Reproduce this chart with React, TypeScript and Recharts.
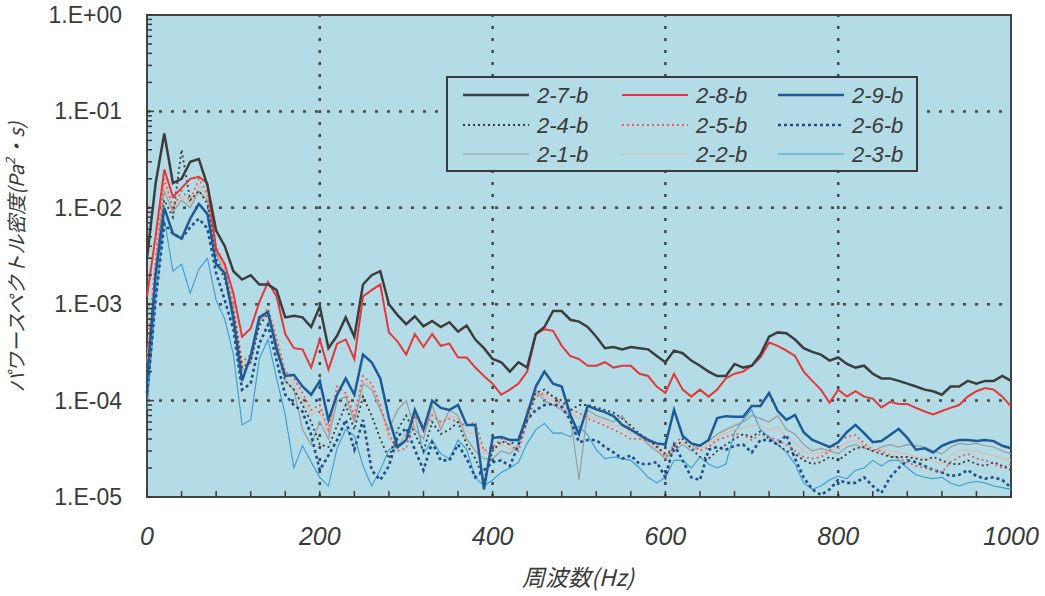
import { LineChart, Line, XAxis, YAxis, CartesianGrid, ReferenceLine, ReferenceArea } from 'recharts';

// frequency (Hz)
const freqs = [
  0, 10, 20, 30, 40, 50, 60, 70, 80, 90,
  100, 110, 120, 130, 140, 150, 160, 170, 180, 190,
  200, 210, 220, 230, 240, 250, 260, 270, 280, 290,
  300, 310, 320, 330, 340, 350, 360, 370, 380, 390,
  400, 410, 420, 430, 440, 450, 460, 470, 480, 490,
  500, 510, 520, 530, 540, 550, 560, 570, 580, 590,
  600, 610, 620, 630, 640, 650, 660, 670, 680, 690,
  700, 710, 720, 730, 740, 750, 760, 770, 780, 790,
  800, 810, 820, 830, 840, 850, 860, 870, 880, 890,
  900, 910, 920, 930, 940, 950, 960, 970, 980, 990, 1000,
];

// power spectral density (Pa^2·s)
const s27 = [
  3.0e-3, 1.8e-2, 5.9e-2, 1.8e-2, 2.0e-2, 3.0e-2, 3.2e-2, 1.7e-2, 5.8e-3, 4.0e-3,
  2.2e-3, 1.8e-3, 2.0e-3, 1.6e-3, 1.6e-3, 1.4e-3, 7.3e-4, 7.6e-4, 7.3e-4, 5.8e-4,
  9.5e-4, 3.5e-4, 4.7e-4, 7.3e-4, 4.6e-4, 1.6e-3, 2.0e-3, 2.2e-3, 1.0e-3, 7.7e-4,
  6.2e-4, 7.5e-4, 5.9e-4, 6.7e-4, 5.8e-4, 6.5e-4, 5.2e-4, 6.0e-4, 4.3e-4, 3.5e-4,
  2.7e-4, 2.5e-4, 2.0e-4, 2.5e-4, 2.2e-4, 4.9e-4, 5.8e-4, 8.5e-4, 8.5e-4, 6.9e-4,
  6.6e-4, 5.8e-4, 4.6e-4, 3.5e-4, 3.6e-4, 3.4e-4, 3.6e-4, 3.5e-4, 3.4e-4, 2.9e-4,
  2.5e-4, 3.3e-4, 3.1e-4, 2.6e-4, 2.3e-4, 2.0e-4, 1.8e-4, 1.8e-4, 2.4e-4, 2.2e-4,
  2.3e-4, 3.0e-4, 4.6e-4, 5.1e-4, 5.0e-4, 4.3e-4, 3.5e-4, 3.2e-4, 3.0e-4, 2.6e-4,
  2.8e-4, 2.4e-4, 2.2e-4, 2.3e-4, 1.9e-4, 1.7e-4, 1.7e-4, 1.6e-4, 1.5e-4, 1.4e-4,
  1.3e-4, 1.25e-4, 1.15e-4, 1.4e-4, 1.4e-4, 1.6e-4, 1.5e-4, 1.6e-4, 1.6e-4, 1.8e-4, 1.6e-4,
];
const s28 = [
  1.2e-3, 5.1e-3, 2.5e-2, 1.3e-2, 1.6e-2, 2.0e-2, 2.1e-2, 1.8e-2, 3.7e-3, 2.6e-3,
  1.3e-3, 4.6e-4, 5.6e-4, 1.05e-3, 1.7e-3, 1.2e-3, 4.9e-4, 3.5e-4, 3.4e-4, 2.2e-4,
  4.3e-4, 2.1e-4, 3.9e-4, 4.3e-4, 2.7e-4, 1.2e-3, 1.4e-3, 1.6e-3, 5.1e-4, 4.1e-4,
  3.0e-4, 4.9e-4, 3.6e-4, 4.9e-4, 3.7e-4, 3.9e-4, 2.8e-4, 2.8e-4, 2.2e-4, 1.8e-4,
  1.5e-4, 1.15e-4, 1.3e-4, 1.5e-4, 2.0e-4, 4.9e-4, 5.5e-4, 5.3e-4, 3.7e-4, 2.9e-4,
  2.7e-4, 2.3e-4, 2.3e-4, 2.5e-4, 2.2e-4, 2.3e-4, 2.3e-4, 1.9e-4, 1.8e-4, 1.4e-4,
  1.2e-4, 1.9e-4, 1.3e-4, 1.1e-4, 1.3e-4, 1.1e-4, 1.3e-4, 1.7e-4, 1.9e-4, 2.0e-4,
  2.3e-4, 2.8e-4, 4.0e-4, 3.7e-4, 3.3e-4, 2.9e-4, 2.0e-4, 1.6e-4, 1.3e-4, 9.5e-5,
  1.3e-4, 1.1e-4, 1.25e-4, 1.1e-4, 1.05e-4, 8.5e-5, 9.7e-5, 9.2e-5, 9.2e-5, 8.4e-5,
  7.7e-5, 7.2e-5, 7.8e-5, 8.4e-5, 9.0e-5, 1.1e-4, 1.25e-4, 1.35e-4, 1.3e-4, 1.1e-4, 8.7e-5,
];
const s29 = [
  1.5e-4, 2.0e-3, 1.0e-2, 5.4e-3, 4.8e-3, 7.7e-3, 1.1e-2, 8.6e-3, 2.6e-3, 2.1e-3,
  7.0e-4, 1.6e-4, 2.9e-4, 7.3e-4, 8.3e-4, 3.4e-4, 1.8e-4, 1.85e-4, 1.4e-4, 1.15e-4,
  1.6e-4, 6.3e-5, 1.15e-4, 1.7e-4, 1.15e-4, 3.0e-4, 2.5e-4, 1.7e-4, 6.6e-5, 3.3e-5,
  3.9e-5, 8.0e-5, 5.0e-5, 1.0e-4, 8.4e-5, 8.0e-5, 9.0e-5, 5.6e-5, 5.6e-5, 1.2e-5,
  4.1e-5, 4.2e-5, 3.9e-5, 3.9e-5, 7.1e-5, 1.4e-4, 2.0e-4, 1.5e-4, 1.4e-4, 7.1e-5,
  4.5e-5, 8.8e-5, 8.1e-5, 7.6e-5, 6.9e-5, 5.6e-5, 5.0e-5, 4.4e-5, 3.9e-5, 3.6e-5,
  3.5e-5, 8.0e-5, 4.3e-5, 3.6e-5, 3.4e-5, 3.9e-5, 6.6e-5, 6.9e-5, 6.8e-5, 6.8e-5,
  8.8e-5, 8.8e-5, 1.2e-4, 7.8e-5, 6.3e-5, 7.1e-5, 4.7e-5, 3.9e-5, 3.6e-5, 3.3e-5,
  3.7e-5, 4.7e-5, 5.6e-5, 4.6e-5, 3.7e-5, 3.8e-5, 4.4e-5, 5.1e-5, 4.1e-5, 3.1e-5,
  3.2e-5, 2.9e-5, 3.4e-5, 3.7e-5, 3.9e-5, 3.9e-5, 3.8e-5, 3.9e-5, 3.8e-5, 3.4e-5, 3.2e-5,
];
const s24 = [
  2.0e-4, 2.0e-3, 1.2e-2, 8.0e-3, 4.0e-2, 1.2e-2, 1.5e-2, 1.1e-2, 3.0e-3, 1.8e-3,
  8.0e-4, 2.2e-4, 2.5e-4, 6.0e-4, 8.0e-4, 3.5e-4, 1.6e-4, 1.3e-4, 9.0e-5, 6.0e-5,
  3.5e-5, 3.3e-5, 5.5e-5, 9.0e-5, 5.0e-5, 1.1e-4, 7.0e-5, 4.0e-5, 2.5e-5, 5.0e-5,
  7.0e-5, 4.5e-5, 3.0e-5, 6.0e-5, 4.5e-5, 5.0e-5, 6.0e-5, 3.5e-5, 2.5e-5, 1.5e-5,
  3.0e-5, 3.8e-5, 3.5e-5, 4.0e-5, 7.0e-5, 1.2e-4, 1.3e-4, 1.1e-4, 1.0e-4, 8.0e-5,
  9.0e-5, 9.0e-5, 8.5e-5, 8.0e-5, 7.5e-5, 6.5e-5, 5.5e-5, 4.5e-5, 4.0e-5, 3.3e-5,
  2.8e-5, 3.0e-5, 4.0e-5, 3.2e-5, 2.6e-5, 2.5e-5, 3.0e-5, 3.5e-5, 4.0e-5, 4.5e-5,
  4.2e-5, 4.8e-5, 4.0e-5, 3.5e-5, 3.0e-5, 2.8e-5, 2.4e-5, 2.2e-5, 2.3e-5, 2.6e-5,
  2.4e-5, 2.8e-5, 3.2e-5, 3.3e-5, 3.0e-5, 2.8e-5, 2.6e-5, 2.6e-5, 2.6e-5, 2.5e-5,
  2.4e-5, 2.6e-5, 2.4e-5, 2.2e-5, 2.2e-5, 2.4e-5, 2.2e-5, 2.1e-5, 2.3e-5, 2.1e-5, 1.9e-5,
];
const s25 = [
  3.0e-4, 3.0e-3, 2.0e-2, 1.0e-2, 1.5e-2, 1.2e-2, 2.0e-2, 1.4e-2, 4.0e-3, 2.5e-3,
  1.0e-3, 2.5e-4, 3.0e-4, 7.0e-4, 9.0e-4, 4.5e-4, 2.0e-4, 1.7e-4, 1.2e-4, 8.0e-5,
  9.0e-5, 5.0e-5, 1.4e-4, 1.2e-4, 7.0e-5, 1.8e-4, 1.5e-4, 9.0e-5, 4.5e-5, 3.0e-5,
  3.2e-5, 7.0e-5, 5.0e-5, 7.0e-5, 6.0e-5, 6.5e-5, 6.0e-5, 5.5e-5, 6.0e-5, 3.0e-5,
  3.3e-5, 4.0e-5, 3.5e-5, 3.0e-5, 6.0e-5, 1.1e-4, 1.2e-4, 1.1e-4, 9.0e-5, 8.0e-5,
  7.5e-5, 6.5e-5, 6.0e-5, 5.5e-5, 5.0e-5, 4.5e-5, 4.0e-5, 4.0e-5, 3.8e-5, 3.5e-5,
  2.6e-5, 3.5e-5, 4.3e-5, 3.6e-5, 3.0e-5, 3.3e-5, 3.9e-5, 4.2e-5, 4.5e-5, 4.4e-5,
  3.9e-5, 4.5e-5, 4.2e-5, 3.9e-5, 3.5e-5, 3.0e-5, 2.6e-5, 2.5e-5, 2.6e-5, 3.0e-5,
  3.8e-5, 4.2e-5, 4.4e-5, 3.6e-5, 3.1e-5, 3.0e-5, 2.7e-5, 2.5e-5, 2.3e-5, 2.1e-5,
  2.0e-5, 1.9e-5, 1.8e-5, 2.3e-5, 2.6e-5, 2.8e-5, 2.5e-5, 2.4e-5, 2.2e-5, 2.0e-5, 2.2e-5,
];
const s26 = [
  1.2e-4, 1.1e-3, 6.8e-3, 5.4e-3, 4.8e-3, 6.3e-3, 7.7e-3, 6.1e-3, 2.1e-3, 1.1e-3,
  5.5e-4, 1.3e-4, 1.5e-4, 3.9e-4, 6.1e-4, 2.6e-4, 1.15e-4, 9.0e-5, 7.7e-5, 4.4e-5,
  1.9e-5, 2.7e-5, 3.9e-5, 6.3e-5, 3.1e-5, 6.3e-5, 1.9e-5, 1.5e-5, 2.1e-5, 4.2e-5,
  5.2e-5, 3.1e-5, 1.9e-5, 3.7e-5, 2.4e-5, 2.4e-5, 3.5e-5, 2.5e-5, 1.6e-5, 1.9e-5,
  2.3e-5, 2.4e-5, 2.1e-5, 3.5e-5, 6.3e-5, 8.0e-5, 9.0e-5, 9.2e-5, 8.6e-5, 6.3e-5,
  3.7e-5, 3.9e-5, 3.9e-5, 3.3e-5, 2.9e-5, 2.5e-5, 2.7e-5, 2.2e-5, 2.2e-5, 2.3e-5,
  1.6e-5, 3.5e-5, 2.4e-5, 1.6e-5, 1.5e-5, 3.1e-5, 3.3e-5, 3.1e-5, 3.4e-5, 3.5e-5,
  2.9e-5, 3.9e-5, 3.9e-5, 3.5e-5, 4.4e-5, 2.5e-5, 1.6e-5, 1.2e-5, 1.05e-5, 1.2e-5,
  1.5e-5, 1.4e-5, 1.4e-5, 1.6e-5, 1.3e-5, 1.1e-5, 1.6e-5, 2.0e-5, 2.4e-5, 2.3e-5,
  2.1e-5, 1.9e-5, 1.8e-5, 1.65e-5, 1.7e-5, 1.9e-5, 1.65e-5, 1.55e-5, 1.6e-5, 1.5e-5, 1.25e-5,
];
const s21 = [
  2.0e-4, 2.5e-3, 1.5e-2, 9.0e-3, 1.2e-2, 1.0e-2, 1.5e-2, 1.2e-2, 3.5e-3, 2.0e-3,
  9.0e-4, 2.0e-4, 2.5e-4, 6.5e-4, 8.5e-4, 4.0e-4, 1.6e-4, 1.3e-4, 5.0e-5, 3.5e-5,
  6.0e-5, 4.0e-5, 1.0e-4, 1.1e-4, 6.0e-5, 1.5e-4, 1.3e-4, 8.0e-5, 5.0e-5, 8.0e-5,
  1.0e-4, 5.0e-5, 4.0e-5, 9.0e-5, 5.0e-5, 8.0e-5, 7.0e-5, 4.0e-5, 3.0e-5, 2.5e-5,
  2.5e-5, 3.0e-5, 2.8e-5, 3.5e-5, 8.0e-5, 1.3e-4, 1.0e-4, 9.0e-5, 8.0e-5, 7.0e-5,
  1.5e-5, 8.0e-5, 7.0e-5, 6.5e-5, 6.0e-5, 7.0e-5, 5.0e-5, 4.5e-5, 3.5e-5, 3.0e-5,
  2.5e-5, 3.0e-5, 3.5e-5, 3.0e-5, 3.5e-5, 3.8e-5, 4.5e-5, 5.0e-5, 5.5e-5, 6.0e-5,
  7.0e-5, 6.5e-5, 6.0e-5, 7.0e-5, 5.0e-5, 4.5e-5, 3.5e-5, 3.0e-5, 3.2e-5, 3.0e-5,
  2.8e-5, 3.3e-5, 3.5e-5, 3.2e-5, 3.0e-5, 3.3e-5, 3.5e-5, 3.3e-5, 3.5e-5, 3.4e-5,
  3.3e-5, 3.0e-5, 2.8e-5, 3.3e-5, 3.6e-5, 3.5e-5, 3.6e-5, 3.4e-5, 3.3e-5, 3.0e-5, 2.8e-5,
];
const s22 = [
  2.5e-4, 2.8e-3, 1.8e-2, 1.0e-2, 1.3e-2, 1.1e-2, 1.7e-2, 1.3e-2, 3.8e-3, 2.2e-3,
  9.5e-4, 2.2e-4, 2.8e-4, 6.8e-4, 8.8e-4, 4.2e-4, 1.8e-4, 1.5e-4, 1.0e-4, 7.0e-5,
  8.0e-5, 4.5e-5, 1.2e-4, 1.15e-4, 6.5e-5, 1.6e-4, 1.4e-4, 8.5e-5, 4.0e-5, 3.5e-5,
  4.5e-5, 6.5e-5, 4.5e-5, 7.5e-5, 5.5e-5, 7.0e-5, 6.5e-5, 4.8e-5, 4.5e-5, 2.8e-5,
  3.0e-5, 3.5e-5, 3.2e-5, 3.3e-5, 7.0e-5, 1.2e-4, 1.1e-4, 1.0e-4, 8.5e-5, 7.5e-5,
  6.5e-5, 7.0e-5, 6.5e-5, 6.0e-5, 5.5e-5, 5.5e-5, 4.5e-5, 4.2e-5, 3.6e-5, 3.2e-5,
  2.6e-5, 3.2e-5, 3.8e-5, 3.3e-5, 3.2e-5, 3.5e-5, 4.2e-5, 4.6e-5, 5.0e-5, 5.2e-5,
  5.5e-5, 5.5e-5, 5.0e-5, 5.2e-5, 4.2e-5, 3.7e-5, 3.0e-5, 2.8e-5, 2.9e-5, 2.9e-5,
  3.2e-5, 3.7e-5, 3.9e-5, 3.4e-5, 3.0e-5, 3.1e-5, 3.0e-5, 2.9e-5, 2.8e-5, 2.6e-5,
  2.5e-5, 2.4e-5, 2.2e-5, 2.7e-5, 3.0e-5, 3.1e-5, 3.0e-5, 2.8e-5, 2.7e-5, 2.5e-5, 2.4e-5,
];
const s23 = [
  8.0e-5, 1.1e-3, 7.7e-3, 2.2e-3, 2.6e-3, 1.3e-3, 2.3e-3, 3.0e-3, 1.1e-3, 7.0e-4,
  3.0e-4, 5.6e-5, 6.3e-5, 2.7e-4, 4.3e-4, 1.7e-4, 7.1e-5, 2.0e-5, 3.4e-5, 2.3e-5,
  1.6e-5, 1.3e-5, 3.2e-5, 5.0e-5, 4.3e-5, 2.1e-5, 1.3e-5, 1.9e-5, 3.1e-5, 3.4e-5,
  4.6e-5, 7.1e-5, 2.8e-5, 3.9e-5, 2.8e-5, 2.5e-5, 3.9e-5, 3.1e-5, 1.6e-5, 1.3e-5,
  1.5e-5, 1.8e-5, 2.0e-5, 2.3e-5, 3.6e-5, 5.0e-5, 5.8e-5, 4.6e-5, 4.6e-5, 4.2e-5,
  5.4e-5, 4.4e-5, 3.1e-5, 2.5e-5, 2.6e-5, 2.5e-5, 2.4e-5, 2.0e-5, 1.6e-5, 1.4e-5,
  1.6e-5, 2.4e-5, 2.4e-5, 2.0e-5, 2.6e-5, 2.2e-5, 2.0e-5, 2.2e-5, 4.7e-5, 6.3e-5,
  8.0e-5, 5.0e-5, 4.2e-5, 3.5e-5, 2.9e-5, 2.2e-5, 1.4e-5, 1.2e-5, 1.3e-5, 1.5e-5,
  1.65e-5, 1.55e-5, 1.9e-5, 2.0e-5, 2.4e-5, 2.1e-5, 2.4e-5, 2.4e-5, 2.0e-5, 1.7e-5,
  1.6e-5, 1.55e-5, 1.6e-5, 1.4e-5, 1.3e-5, 1.4e-5, 1.45e-5, 1.4e-5, 1.3e-5, 1.25e-5, 1.2e-5,
];

const yMajorTicks = [1e-5, 1e-4, 1e-3, 1e-2, 1e-1, 1];
const yTickLabels = ['1.E-05', '1.E-04', '1.E-03', '1.E-02', '1.E-01', '1.E+00'];
const yMinorTicks = yMajorTicks.slice(0, 5).flatMap((d) => [2, 3, 4, 5, 6, 7, 8, 9].map((m) => m * d));
const xMajorTicks = [0, 200, 400, 600, 800, 1000];
const xTickLabels = ['0', '200', '400', '600', '800', '1000'];
const xMinorTicks = [
  0, 40, 80, 120, 160, 200, 240, 280, 320, 360, 400, 440, 480, 520, 560, 600,
  640, 680, 720, 760, 800, 840, 880, 920, 960, 1000,
];

const data = freqs.map((f, i) => ({
  f, s27: s27[i], s28: s28[i], s29: s29[i], s24: s24[i], s25: s25[i],
  s26: s26[i], s21: s21[i], s22: s22[i], s23: s23[i],
}));

type Series = { key: string; name: string; color: string; width: number; dash?: string };
const series: Series[] = [
  { key: 's27', name: '2-7-b', color: '#3d3d3d', width: 2.5 },
  { key: 's28', name: '2-8-b', color: '#e4373a', width: 2 },
  { key: 's29', name: '2-9-b', color: '#1d5a96', width: 2.5 },
  { key: 's24', name: '2-4-b', color: '#3a3a3a', width: 1.8, dash: '2 3' },
  { key: 's25', name: '2-5-b', color: '#ec5a5a', width: 1.8, dash: '2 3' },
  { key: 's26', name: '2-6-b', color: '#1f4f8a', width: 2.6, dash: '3 3' },
  { key: 's21', name: '2-1-b', color: '#9a9a9a', width: 1.2 },
  { key: 's22', name: '2-2-b', color: '#e3b9a8', width: 1.2 },
  { key: 's23', name: '2-3-b', color: '#3d9bd0', width: 1.1 },
];
// draw order: faint ones first, main ones on top
const drawOrder = ['s23', 's22', 's21', 's26', 's25', 's24', 's29', 's28', 's27'];

const PLOT_BG = '#b3dce7';
const INK = '#3a3a3a';
const LATIN = "'Liberation Sans', Arial, sans-serif";
const CJK = "'Noto Sans CJK JP', 'Noto Sans', sans-serif";

const YTick = (props: any) => {
  const { x, y, payload } = props;
  const idx = yMajorTicks.indexOf(payload.value);
  return (
    <g>
      <line x1={x} x2={x + (idx >= 0 ? 7 : 5)} y1={y} y2={y} stroke={INK} strokeWidth={1.5} />
      {idx >= 0 && (
        <text x={x - 25} y={y} dy={8} textAnchor="end" fontSize={23} fontFamily={LATIN} fill={INK}>
          {yTickLabels[idx]}
        </text>
      )}
    </g>
  );
};

const XTick = (props: any) => {
  const { x, y, payload } = props;
  const idx = xMajorTicks.indexOf(payload.value);
  return (
    <g>
      <line x1={x} x2={x} y1={y} y2={y - 6} stroke={INK} strokeWidth={1.5} />
      {idx >= 0 && (
        <text x={x} y={y + 48} textAnchor="middle" fontSize={25} fontStyle="italic" fontFamily={LATIN} fill={INK}>
          {xTickLabels[idx]}
        </text>
      )}
    </g>
  );
};

const legendCols = [463, 622, 778];
const legendRows = [95, 125, 154];

export default function App() {
  return (
    <div style={{ position: 'absolute', left: 0, top: 0, width: 1045, height: 596, background: '#fff' }}>
      <LineChart width={1045} height={596} data={data} margin={{ top: 15, right: 34, left: 7, bottom: 39 }}>
        <CartesianGrid fill={PLOT_BG} horizontal={false} vertical={false} />
        <XAxis
          type="number"
          dataKey="f"
          domain={[0, 1000]}
          ticks={xMinorTicks}
          interval={0}
          axisLine={false}
          tickLine={false}
          tickSize={0}
          tickMargin={0}
          height={60}
          tick={<XTick />}
        />
        <YAxis
          type="number"
          scale="log"
          domain={[1e-5, 1]}
          allowDataOverflow
          ticks={[...yMajorTicks, ...yMinorTicks]}
          interval={0}
          axisLine={false}
          tickLine={false}
          tickSize={0}
          tickMargin={0}
          width={140}
          tick={<YTick />}
        />
        {yMajorTicks.slice(1, 5).map((v) => (
          <ReferenceLine key={`h${v}`} y={v} stroke="#454545" strokeWidth={2.5} strokeDasharray="3 9" />
        ))}
        {xMajorTicks.slice(1, 5).map((v) => (
          <ReferenceLine key={`v${v}`} x={v} stroke="#454545" strokeWidth={2.5} strokeDasharray="3 9" />
        ))}
        {drawOrder.map((k) => {
          const s = series.find((e) => e.key === k)!;
          return (
            <Line
              key={k}
              type="linear"
              dataKey={k}
              stroke={s.color}
              strokeWidth={s.width}
              strokeDasharray={s.dash}
              dot={false}
              activeDot={false}
              isAnimationActive={false}
            />
          );
        })}
        <ReferenceArea x1={0} x2={1000} y1={1e-5} y2={1} fill="none" stroke="#444" strokeWidth={2} ifOverflow="visible" />
      </LineChart>

      <svg width={1045} height={596} style={{ position: 'absolute', left: 0, top: 0, pointerEvents: 'none' }}>
        <rect x={447} y={77} width={470} height={94} fill={PLOT_BG} stroke={INK} strokeWidth={2} />
        {series.map((s, i) => {
          const cx = legendCols[i % 3];
          const cy = legendRows[Math.floor(i / 3)];
          return (
            <g key={s.key}>
              <line x1={cx} x2={cx + 66} y1={cy} y2={cy} stroke={s.color} strokeWidth={s.width} strokeDasharray={s.dash} />
              <text x={cx + 74} y={cy + 8} fontSize={22} fontStyle="italic" fontFamily={LATIN} fill={INK}>
                {s.name}
              </text>
            </g>
          );
        })}
        <text x={578} y={586} textAnchor="middle" fontSize={23} fontStyle="italic" fontFamily={CJK} fill={INK}>
          周波数(Hz)
        </text>
        <text
          x={24}
          y={257}
          textAnchor="middle"
          fontSize={20}
          fontStyle="italic"
          fontFamily={CJK}
          fill={INK}
          transform="rotate(-90 24 257)"
        >
          パワースペクトル密度(Pa<tspan baselineShift="super" fontSize={13}>2</tspan>・s)
        </text>
      </svg>
    </div>
  );
}
